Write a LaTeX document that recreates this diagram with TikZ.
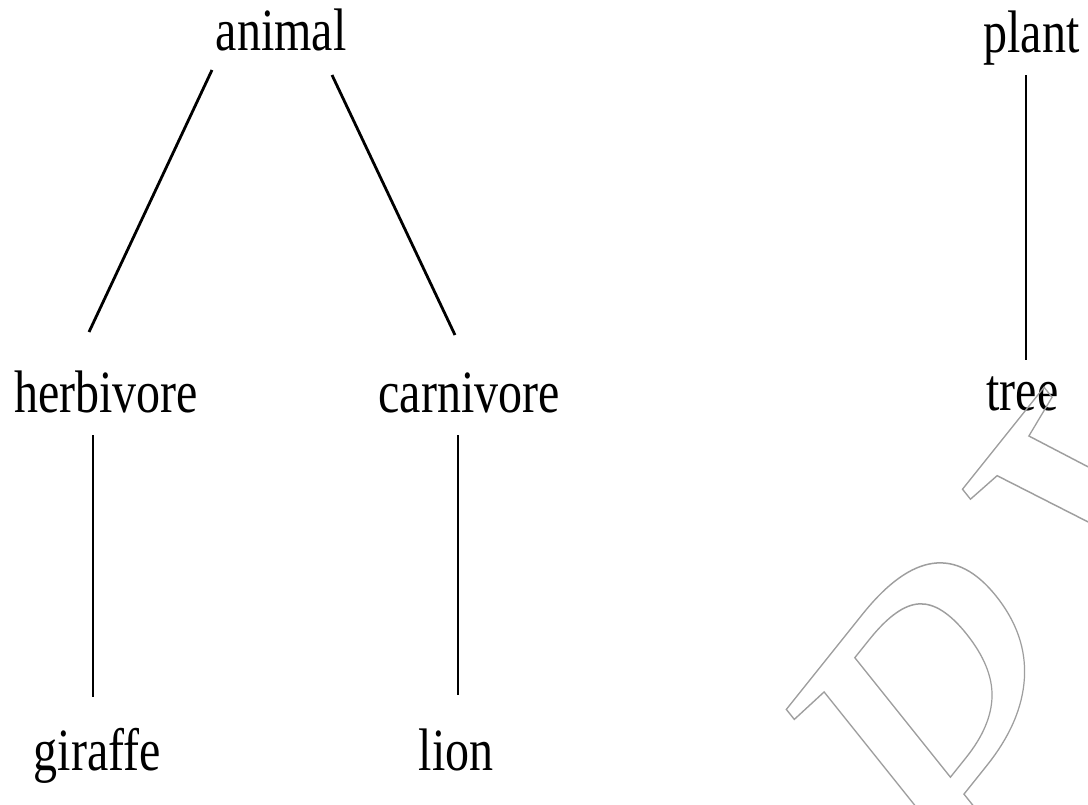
\documentclass[tikz,border=0pt]{standalone}
\usepackage{fontspec}
\usepackage{graphicx}
\setmainfont{Liberation Serif}
\tikzset{
  word/.style={inner sep=0pt, anchor=base, font=\fontsize{60}{60}\selectfont},
  edge/.style={line width=2.8pt, black},
}
% words are set 80% as wide as they are tall
\newcommand{\narrow}[1]{\scalebox{0.8}[1]{#1}}

\begin{document}
\begin{tikzpicture}[x=1pt,y=-1pt]
\useasboundingbox (0,0) rectangle (1088,804);
\fill[white] (0,0) rectangle (1088,804);

% the two trees
\node[word] (animal)  at (281,50)    {\narrow{animal}};
\node[word] (plant)   at (1031.5,52) {\narrow{plant}};
\node[word] (herb)    at (106,412)   {\narrow{herbivore}};
\node[word] (carn)    at (469,412)   {\narrow{carnivore}};
\node[word] (tree)    at (1022.5,410){\narrow{tree}};
\node[word] (giraffe) at (97.5,770)  {\narrow{giraffe}};
\node[word] (lion)    at (456,770)   {\narrow{lion}};

\draw[edge] ([xshift=-69pt,yshift=-20pt]animal.base) -- ([xshift=-17pt,yshift=80pt]herb.base);
\draw[edge] ([xshift=51pt,yshift=-25pt]animal.base) -- ([xshift=-14pt,yshift=77pt]carn.base);
\draw[edge] ([xshift=-13pt,yshift=-23pt]herb.base) -- ([xshift=-4.5pt,yshift=73pt]giraffe.base);
\draw[edge] ([xshift=-11pt,yshift=-23pt]carn.base) -- ([xshift=2pt,yshift=75pt]lion.base);
\draw[edge] ([xshift=-5.5pt,yshift=-23pt]plant.base) -- ([xshift=3.5pt,yshift=50pt]tree.base);

% outlined diagonal watermark letters
\begin{scope}
  \clip (0,0) rectangle (1088,804);
  \begin{scope}[xscale=0.8, transform shape]
    \node[rotate=45, anchor=base west, inner sep=0pt, text=black!38,
          font=\fontsize{545}{545}\selectfont] (mark) at (1224,973)
      {\special{pdf:literal direct 1 Tr 1.5 w}P\kern18pt V\special{pdf:literal direct 0 Tr}};
  \end{scope}
\end{scope}
\end{tikzpicture}
\end{document}
